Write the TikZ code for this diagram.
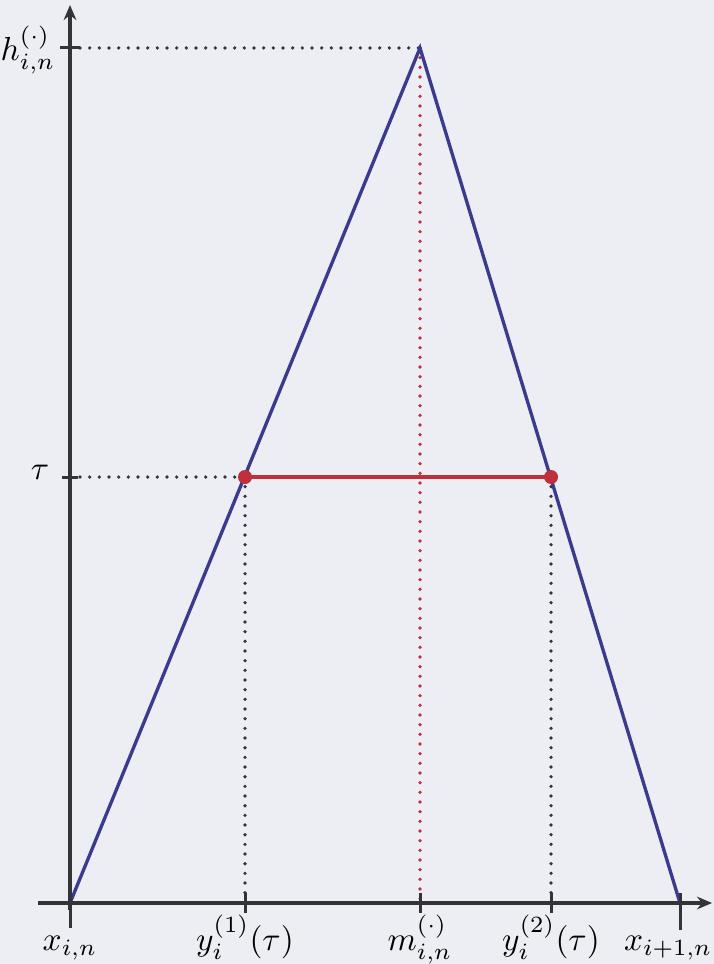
\documentclass[tikz,border=0pt]{standalone}
\usetikzlibrary{arrows.meta}
\definecolor{bgc}{HTML}{EDEDF4}
\definecolor{tri}{HTML}{3B3B8E}
\definecolor{redl}{HTML}{C0303A}
\definecolor{axc}{HTML}{333338}
\begin{document}
\begin{tikzpicture}[x=0.3pt,y=-0.3pt,
  axis/.style={draw=axc,line width=1.1pt,-{Stealth[length=4.5pt,width=3.8pt]}},
  tickmark/.style={draw=axc,line width=0.9pt},
  guide/.style={draw=axc,line width=1.1pt,line cap=round,dash pattern=on 0pt off 2.9pt},
  redguide/.style={draw=redl,line width=1.1pt,line cap=round,dash pattern=on 0pt off 2.9pt},
  triline/.style={draw=tri,line width=1pt,line join=miter},
  lab/.style={inner sep=0pt,font=\normalsize}]
\fill[bgc] (0,0) rectangle (714,964);
\useasboundingbox (0,0) rectangle (714,964);
% key points
\coordinate (O) at (70,903);
\coordinate (A) at (420,48);
\coordinate (B) at (680,903);
\coordinate (P1) at (245,477);
\coordinate (P2) at (551,477);
\coordinate (H) at (80,48);
\coordinate (T) at (80,477);
\coordinate (M) at (420,903);
\coordinate (Y1) at (245,903);
\coordinate (Y2) at (551,903);
\coordinate (ytop) at (70,5);
\coordinate (xleft) at (38,903);
\coordinate (xright) at (712,903);
% guides
\draw[guide] (H) -- (A);
\draw[guide] (T) -- (P1);
\draw[guide] (P1) -- (Y1);
\draw[guide] (P2) -- (Y2);
\draw[redguide] (A) -- (M);
% triangle
\draw[triline] (O) -- (A) -- (B);
% red level segment
\draw[redl,line width=1.4pt] (P1) -- (P2);
\fill[redl] (P1) circle[radius=7];
\fill[redl] (P2) circle[radius=7];
% axes
\draw[axis] (70,910) -- (ytop);
\draw[axis] (xleft) -- (xright);
% ticks
\draw[tickmark] (60,48) -- (80,48);
\draw[tickmark] (62,477) -- (78,477);
\draw[tickmark] (70,903) -- (70,928);
\draw[tickmark] (680,893) -- (680,930);
\draw[tickmark] (245,893) -- (245,913);
\draw[tickmark] (420,893) -- (420,913);
\draw[tickmark] (551,893) -- (551,913);
% labels
\node[lab,anchor=east] (lh) at (56,50) {$h_{i,n}^{(\cdot)}$};
\node[lab,anchor=east] (lt) at (50,472) {$\tau$};
\node[lab,anchor=base] (lx) at (70,950) {$x_{i,n}$};
\node[lab,anchor=base] (ly1) at (245,950) {$y_i^{(1)}(\tau)$};
\node[lab,anchor=base] (lm) at (420,950) {$m_{i,n}^{(\cdot)}$};
\node[lab,anchor=base] (ly2) at (551,950) {$y_i^{(2)}(\tau)$};
\node[lab,anchor=base east] (lx2) at (713,950) {$x_{i+1,n}$};
\end{tikzpicture}
\end{document}
